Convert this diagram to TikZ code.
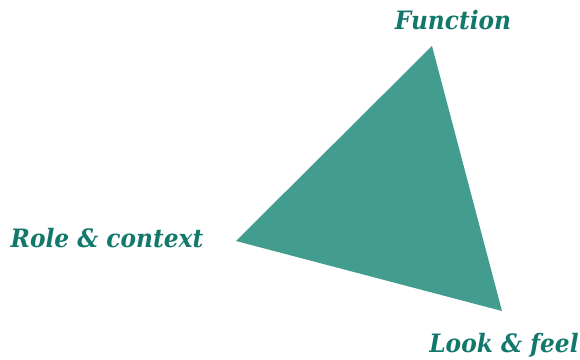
\documentclass[tikz,border=0pt]{standalone}
\usepackage{fontspec}
\setmainfont{DejaVu Serif}
\newfontfamily\cornerfont[FakeStretch=0.92]{DejaVu Serif}
\usepackage{tikz}
\usetikzlibrary{positioning, calc}
\definecolor{cT}{RGB}{66,157,143}
\definecolor{cL}{RGB}{19,120,108}

\begin{document}
\begin{tikzpicture}[x=0.025cm, y=-0.025cm,
                    corner/.style={font=\cornerfont\bfseries\itshape\fontsize{18}{20}\selectfont, text=cL, inner sep=0pt}]
    \useasboundingbox (0,0) rectangle (580,360);

    % Defining the corners of the triangle
    \coordinate (top)   at (432,46);
    \coordinate (left)  at (236,241);
    \coordinate (right) at (502,311);

    % The triangle
    \fill[cT] (top) -- (left) -- (right) -- cycle;

    % Labels at the corners
    \node[corner] (function) at (453,20)  {Function};
    \node[corner] (role)     at (107,238) {Role \& context};
    \node[corner] (look)     at (504,345) {Look \& feel};

\end{tikzpicture}
\end{document}
